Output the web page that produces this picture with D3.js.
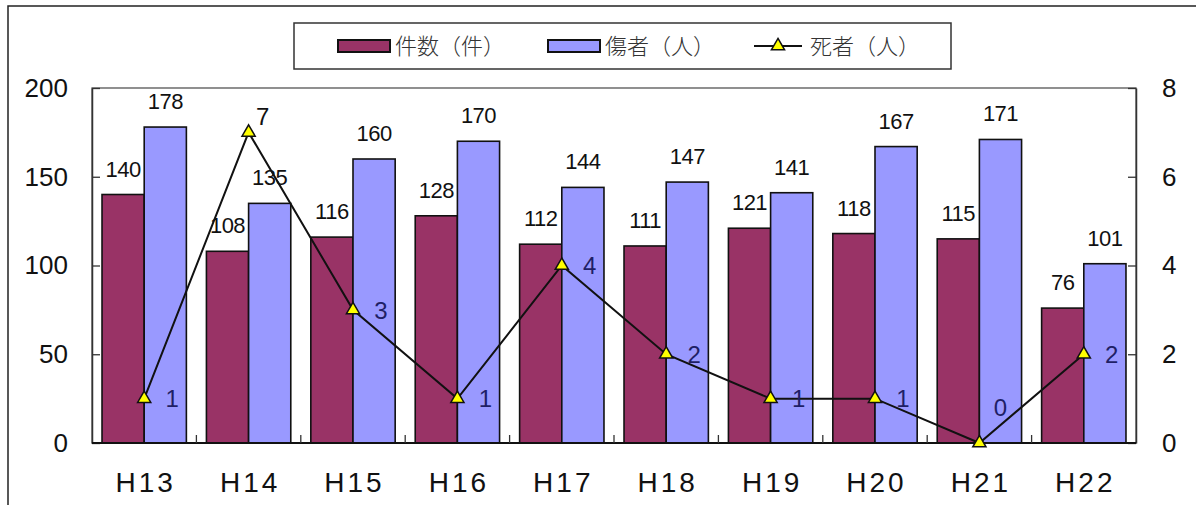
<!DOCTYPE html>
<html><head><meta charset="utf-8">
<script src="https://cdn.jsdelivr.net/npm/d3@7/dist/d3.min.js"></script>
<style>
html,body{margin:0;padding:0;background:#fff;}
svg{display:block;font-family:"Liberation Sans",Arial,sans-serif;}
</style></head>
<body>
<svg id="chart" width="1196" height="505"></svg>
<script>
const categories = ["H13","H14","H15","H16","H17","H18","H19","H20","H21","H22"];
const casesValues = [140,108,116,128,112,111,121,118,115,76];
const injuredValues = [178,135,160,170,144,147,141,167,171,101];
const deathValues = [1,7,3,1,4,2,1,1,0,2];
const leftTicks = [0,50,100,150,200];
const rightTicks = [0,2,4,6,8];
const seriesNames = ["件数（件）","傷者（人）","死者（人）"];

const W = 1196, H = 505;
const plot = {left:92, right:1136, top:88, bottom:443};
const svg = d3.select("#chart");
const maroon = "#993366", blue = "#9999FF";

// outer chart border
svg.append("path").attr("d", `M8,${H+5} L8,6 L${W+5},6`).attr("fill","none").attr("stroke","#222").attr("stroke-width",1.5);

const x0 = d3.scaleBand().domain(categories).range([plot.left, plot.right]).paddingInner(0.192).paddingOuter(0.096);
const x1 = d3.scaleBand().domain(["cases","injured"]).range([0, x0.bandwidth()]);
const yL = d3.scaleLinear().domain([0,200]).range([plot.bottom, plot.top]);
const yR = d3.scaleLinear().domain([0,8]).range([plot.bottom, plot.top]);

// plot frame
svg.append("rect").attr("x",plot.left).attr("y",plot.top).attr("width",plot.right-plot.left).attr("height",plot.bottom-plot.top)
  .attr("fill","none").attr("stroke","#555").attr("stroke-width",1.3);

// bars
const groups = svg.append("g").selectAll("g").data(categories).join("g")
  .attr("transform", d => `translate(${x0(d)},0)`);
groups.append("rect").attr("x", x1("cases")).attr("width", x1.bandwidth())
  .attr("y", (d,i) => yL(casesValues[i])).attr("height", (d,i) => yL(0)-yL(casesValues[i]))
  .attr("fill", maroon).attr("stroke","#111").attr("stroke-width",1.6);
groups.append("rect").attr("x", x1("injured")).attr("width", x1.bandwidth())
  .attr("y", (d,i) => yL(injuredValues[i])).attr("height", (d,i) => yL(0)-yL(injuredValues[i]))
  .attr("fill", blue).attr("stroke","#111").attr("stroke-width",1.6);

// bar labels
groups.append("text").attr("x", x1("cases")+x1.bandwidth()/2).attr("y",(d,i)=>yL(casesValues[i])-18)
  .attr("text-anchor","middle").attr("font-size",22).attr("fill","#111").attr("letter-spacing",-0.5)
  .text((d,i)=>casesValues[i]);
groups.append("text").attr("x", x1("injured")+x1.bandwidth()/2).attr("y",(d,i)=>yL(injuredValues[i])-18)
  .attr("text-anchor","middle").attr("font-size",22).attr("fill","#111").attr("letter-spacing",-0.5)
  .text((d,i)=>injuredValues[i]);

// axes
const axL = d3.axisLeft(yL).tickValues(leftTicks).tickSizeInner(-8).tickSizeOuter(0).tickPadding(24);
const gL = svg.append("g").attr("transform",`translate(${plot.left},0)`).call(axL);
gL.select(".domain").attr("stroke","#333").attr("stroke-width",1.5);
gL.selectAll(".tick line").attr("stroke","#333").attr("stroke-width",1.3);
gL.selectAll(".tick text").attr("font-size",26).attr("fill","#111").attr("font-family","Liberation Sans, Arial, sans-serif");

const axR = d3.axisRight(yR).tickValues(rightTicks).tickSizeInner(-8).tickSizeOuter(0).tickPadding(26);
const gR = svg.append("g").attr("transform",`translate(${plot.right},0)`).call(axR);
gR.select(".domain").attr("stroke","#333").attr("stroke-width",1.5);
gR.selectAll(".tick line").attr("stroke","#333").attr("stroke-width",1.3);
gR.selectAll(".tick text").attr("font-size",26).attr("fill","#111").attr("font-family","Liberation Sans, Arial, sans-serif");

// x axis
const gX = svg.append("g");
gX.append("line").attr("x1",plot.left).attr("x2",plot.right).attr("y1",plot.bottom).attr("y2",plot.bottom)
  .attr("stroke","#111").attr("stroke-width",1.8);
const boundaries = categories.slice(1).map(c => x0(c) - x0.step()*x0.paddingInner()/2);
gX.selectAll("line.t").data(boundaries).join("line").attr("class","t")
  .attr("x1",d=>d).attr("x2",d=>d).attr("y1",plot.bottom).attr("y2",plot.bottom-8)
  .attr("stroke","#333").attr("stroke-width",1.3);
gX.selectAll("text").data(categories).join("text")
  .attr("x", d => x0(d)+x0.bandwidth()/2+1.5).attr("y", 492)
  .attr("text-anchor","middle").attr("font-size",28).attr("letter-spacing",3).attr("fill","#111")
  .text(d=>d);

// death line
const cx = (d) => x0(d)+x0.bandwidth()/2;
const line = d3.line().x((d,i)=>cx(categories[i])).y(d=>yR(d));
svg.append("path").datum(deathValues).attr("d",line).attr("fill","none").attr("stroke","#111").attr("stroke-width",2);
const tri = d3.symbol().type(d3.symbolTriangle).size(75);
svg.append("g").selectAll("path").data(deathValues).join("path")
  .attr("d",tri).attr("transform",(d,i)=>`translate(${cx(categories[i])},${yR(d)})`)
  .attr("fill","#FFFF00").attr("stroke","#111").attr("stroke-width",1.5);
const maxDeath = d3.max(deathValues);
svg.append("g").selectAll("text").data(deathValues).join("text")
  .attr("x",(d,i)=>cx(categories[i]) + (d===maxDeath ? 14 : d===0 ? 21 : 28))
  .attr("y",(d,i)=>yR(d) + (d===maxDeath ? -16 : d===0 ? -36 : 0))
  .attr("dy","0.36em").attr("text-anchor","middle").attr("font-size",24)
  .attr("fill",(d)=> d===maxDeath ? "#111" : "#1f1f66")
  .text(d=>d);

// legend
const lg = svg.append("g");
lg.append("rect").attr("x",294).attr("y",23).attr("width",657).attr("height",46)
  .attr("fill","#fff").attr("stroke","#333").attr("stroke-width",1.5);
const legendFont = '"Noto Sans CJK JP","Noto Sans CJK SC",sans-serif';
lg.append("rect").attr("x",338).attr("y",40).attr("width",52).attr("height",12).attr("fill",maroon).attr("stroke","#111").attr("stroke-width",2);
lg.append("text").attr("x",395).attr("y",46).attr("dy","0.36em").attr("font-size",22).attr("font-weight",300).attr("font-family",legendFont).attr("fill","#333").text(seriesNames[0]);
lg.append("rect").attr("x",548).attr("y",40).attr("width",52).attr("height",12).attr("fill",blue).attr("stroke","#111").attr("stroke-width",2);
lg.append("text").attr("x",605).attr("y",46).attr("dy","0.36em").attr("font-size",22).attr("font-weight",300).attr("font-family",legendFont).attr("fill","#333").text(seriesNames[1]);
lg.append("line").attr("x1",754).attr("x2",802).attr("y1",46).attr("y2",46).attr("stroke","#111").attr("stroke-width",2);
lg.append("path").attr("d",tri).attr("transform","translate(778,46)").attr("fill","#FFFF00").attr("stroke","#111").attr("stroke-width",1.5);
lg.append("text").attr("x",810).attr("y",46).attr("dy","0.36em").attr("font-size",22).attr("font-weight",300).attr("font-family",legendFont).attr("fill","#333").text(seriesNames[2]);
</script>
</body></html>
